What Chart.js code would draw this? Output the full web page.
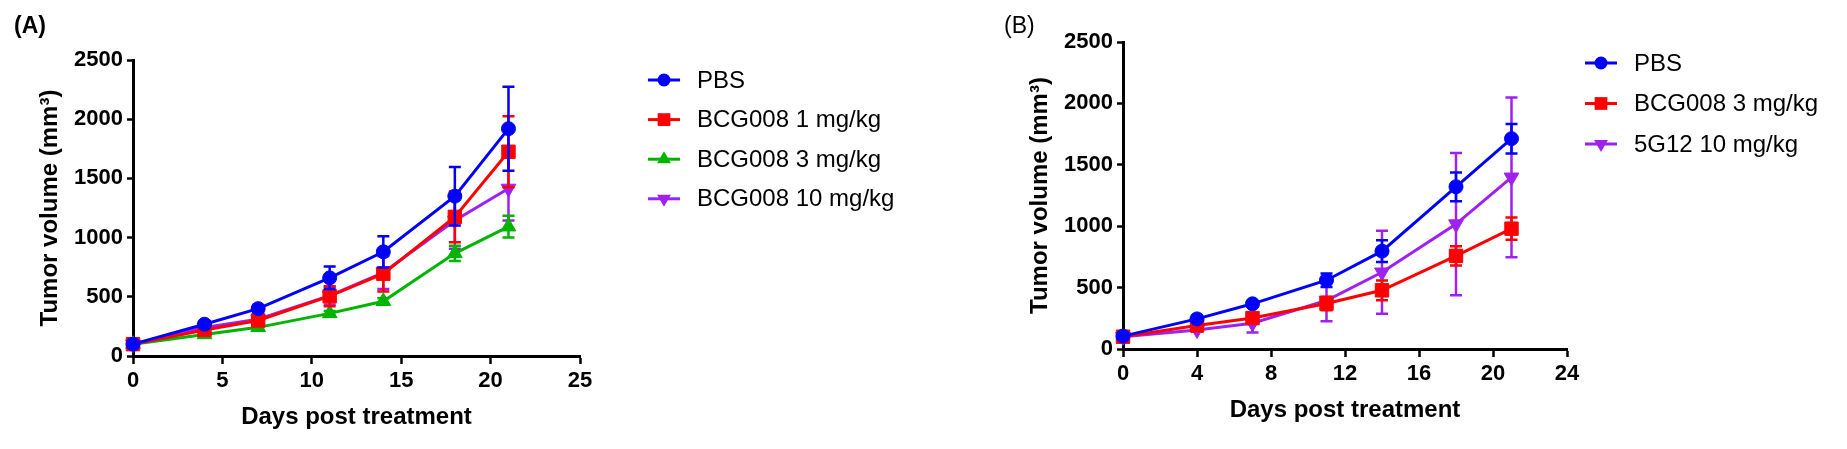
<!DOCTYPE html>
<html>
<head>
<meta charset="utf-8">
<script src="https://cdn.jsdelivr.net/npm/chart.js@4.4.1/dist/chart.umd.min.js"></script>
<style>
  body { margin: 0; background: #fff; }
  #wrap { position: relative; width: 1847px; height: 449px; overflow: hidden; }
  canvas { position: absolute; top: 0; }
  .panel { position: absolute; top: 12px; font-family: Arial, "Liberation Sans", sans-serif; font-size: 23px; color: #000; }
</style>
</head>
<body>
<div id="wrap">
  <canvas id="chartA" width="990" height="449" style="left:0px"></canvas>
  <canvas id="chartB" width="857" height="449" style="left:990px"></canvas>
  <div class="panel" style="left:14px; font-weight:bold">(A)</div>
  <div class="panel" style="left:1004px">(B)</div>
</div>
<script>
const FONT = "Arial, 'Liberation Sans', sans-serif"

const BLUE = "#0000ff"
const RED = "#ff0000"
const GREEN = "#00b400"
const PURPLE = "#a020f0"

// dias de medida
const days = [0, 4, 7, 11, 14, 18, 21]

// (A)
const labelsA = ["PBS", "BCG008 1 mg/kg", "BCG008 3 mg/kg", "BCG008 10 mg/kg"]
const pbsA = [100, 268, 400, 660, 880, 1350, 1920]
const pbsA_err = [15, 25, 30, 95, 132, 247, 355]
const bcg1A = [100, 220, 300, 505, 695, 1175, 1725]
const bcg1A_err = [20, 20, 30, 85, 150, 215, 300]
const bcg3A = [100, 182, 242, 360, 462, 867, 1092]
const bcg3A_err = [10, 15, 15, 20, 25, 65, 92]
const bcg10A = [100, 240, 310, 510, 705, 1145, 1415]
const bcg10A_err = [10, 15, 20, 75, 140, 240, 270]

// (B)
const labelsB = ["PBS", "BCG008 3 mg/kg", "5G12 10 mg/kg"]
const pbsB = [105, 245, 368, 560, 797, 1321, 1713]
const pbsB_err = [15, 20, 20, 55, 88, 117, 120]
const bcg3B = [100, 192, 252, 370, 478, 758, 980]
const bcg3B_err = [15, 20, 25, 55, 80, 78, 90]
const g12B = [100, 155, 210, 395, 625, 1017, 1398]
const g12B_err = [10, 15, 75, 170, 338, 580, 650]

function serie(label, values, errors, color, style) {
	let raio = 7
	if (style == "rect") raio = 9.5
	if (style == "triangle" || style == "down") raio = 8.5
	return {
		label: label,
		data: days.map((d, i) => ({ x: d, y: values[i] })),
		errors: errors,
		borderColor: color,
		backgroundColor: color,
		borderWidth: 3,
		pointStyle: style == "down" ? "triangle" : style,
		pointRotation: style == "down" ? 180 : 0,
		pointRadius: raio,
		pointHoverRadius: raio,
		pointBorderWidth: 1,
		pointBackgroundColor: color,
		pointBorderColor: color,
		tension: 0,
		fill: false,
		clip: false,
	}
}

// barras de erro, desenhadas antes de cada serie (mantem a ordem das camadas)
const errorBars = {
	id: "errorBars",
	beforeDatasetDraw(chart, args) {
		const ds = chart.data.datasets[args.index]
		const ctx = chart.ctx
		const y = chart.scales.y
		ctx.save()
		ctx.strokeStyle = ds.borderColor
		ctx.lineWidth = 2.5
		args.meta.data.forEach((pt, i) => {
			const v = ds.data[i].y
			const e = ds.errors[i]
			const top = y.getPixelForValue(v + e)
			const bot = y.getPixelForValue(v - e)
			ctx.beginPath()
			ctx.moveTo(pt.x, top)
			ctx.lineTo(pt.x, bot)
			ctx.moveTo(pt.x - 6, top)
			ctx.lineTo(pt.x + 6, top)
			ctx.moveTo(pt.x - 6, bot)
			ctx.lineTo(pt.x + 6, bot)
			ctx.stroke()
		})
		ctx.restore()
	},
}

function drawMarker(ctx, style, x, y, r) {
	ctx.beginPath()
	if (style == "circle") {
		ctx.arc(x, y, r, 0, Math.PI * 2)
	} else if (style == "rect") {
		let s = r * Math.SQRT1_2
		ctx.rect(x - s, y - s, 2 * s, 2 * s)
	} else {
		let dir = style == "down" ? -1 : 1
		for (let k = 0; k < 3; k++) {
			let ang = k * (2 * Math.PI / 3)
			let px = x + Math.sin(ang) * r
			let py = y - dir * Math.cos(ang) * r
			if (k == 0) ctx.moveTo(px, py)
			else ctx.lineTo(px, py)
		}
		ctx.closePath()
	}
	ctx.fill()
}

// legenda com linha + marcador
function legendPlugin(lx, ly, step) {
	return {
		id: "legendaCustom",
		afterDraw(chart) {
			const ctx = chart.ctx
			ctx.save()
			chart.data.datasets.forEach((ds, i) => {
				let y = ly + i * step
				ctx.strokeStyle = ds.borderColor
				ctx.fillStyle = ds.borderColor
				ctx.lineWidth = 3
				ctx.beginPath()
				ctx.moveTo(lx, y)
				ctx.lineTo(lx + 32, y)
				ctx.stroke()
				let st = ds.pointRotation == 180 ? "down" : ds.pointStyle
				drawMarker(ctx, st, lx + 16, y, ds.pointRadius - 0.5)
				ctx.fillStyle = "#000"
				ctx.font = "24px " + FONT
				ctx.textBaseline = "middle"
				ctx.textAlign = "left"
				ctx.fillText(ds.label, lx + 49, y + 1)
			})
			ctx.restore()
		},
	}
}

function opcoes(xmax, xstep, padTop, padRight, xHeight, titleBottom) {
	return {
		responsive: false,
		animation: false,
		events: [],
		layout: { padding: { top: padTop, right: padRight, bottom: 0, left: 0 } },
		plugins: { legend: { display: false }, tooltip: { enabled: false } },
		scales: {
			x: {
				type: "linear",
				min: 0,
				max: xmax,
				ticks: {
					stepSize: xstep,
					color: "#000",
					padding: 4,
					font: { family: FONT, size: 22, weight: "bold" },
					callback: (v) => String(v),
				},
				grid: {
					display: true,
					drawOnChartArea: false,
					drawTicks: true,
					tickLength: 8,
					tickWidth: 2.5,
					tickColor: "#000",
				},
				border: { display: true, color: "#000", width: 3 },
				title: {
					display: true,
					text: "Days post treatment",
					color: "#000",
					font: { family: FONT, size: 24, weight: "bold" },
					padding: { top: 0, bottom: titleBottom },
				},
				afterFit: (s) => {
					s.height = xHeight
				},
			},
			y: {
				min: 0,
				max: 2500,
				ticks: {
					stepSize: 500,
					color: "#000",
					padding: 4,
					font: { family: FONT, size: 22, weight: "bold" },
					callback: (v) => String(v),
				},
				grid: {
					display: true,
					drawOnChartArea: false,
					drawTicks: true,
					tickLength: 6,
					tickWidth: 2.5,
					tickColor: "#000",
				},
				border: { display: true, color: "#000", width: 3 },
				title: {
					display: true,
					text: "Tumor volume (mm³)",
					color: "#000",
					font: { family: FONT, size: 24, weight: "bold" },
					padding: { top: 36, bottom: 0 },
				},
				afterFit: (s) => {
					s.width = 133
				},
			},
		},
	}
}

var graficoA = new Chart(document.getElementById("chartA"), {
	type: "line",
	data: {
		datasets: [
			serie(labelsA[0], pbsA, pbsA_err, BLUE, "circle"),
			serie(labelsA[1], bcg1A, bcg1A_err, RED, "rect"),
			serie(labelsA[2], bcg3A, bcg3A_err, GREEN, "triangle"),
			serie(labelsA[3], bcg10A, bcg10A_err, PURPLE, "down"),
		],
	},
	options: opcoes(25, 5, 60, 410, 93, 17),
	plugins: [errorBars, legendPlugin(648, 80, 39.6)],
})

var graficoB = new Chart(document.getElementById("chartB"), {
	type: "line",
	data: {
		datasets: [
			serie(labelsB[0], pbsB, pbsB_err, BLUE, "circle"),
			serie(labelsB[1], bcg3B, bcg3B_err, RED, "rect"),
			serie(labelsB[2], g12B, g12B_err, PURPLE, "down"),
		],
	},
	options: opcoes(24, 4, 42, 280, 100, 24),
	plugins: [errorBars, legendPlugin(595, 63, 40.5)],
})
</script>
</body>
</html>
